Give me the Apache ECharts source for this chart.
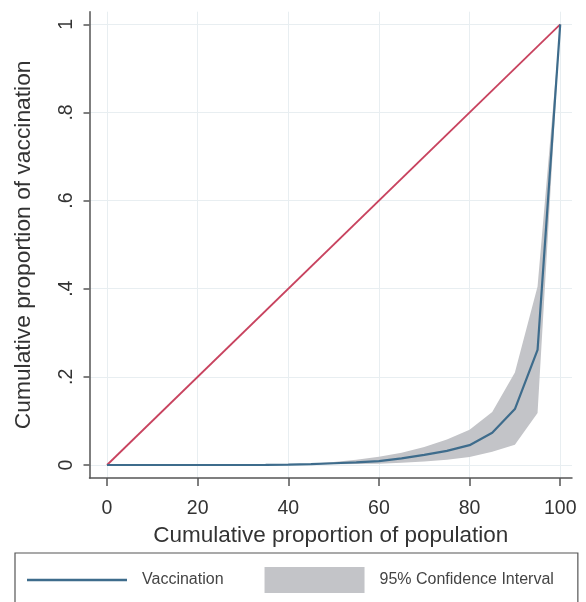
<!DOCTYPE html>
<html>
<head>
<meta charset="utf-8">
<script src="https://cdn.jsdelivr.net/npm/echarts@6/dist/echarts.min.js"></script>
<style>html,body{margin:0;padding:0;background:#fff}#c{width:586px;height:602px}</style>
</head>
<body>
<div id="c"></div>
<script>
// Cumulative proportion of population (%)
var popPct = [0,5,10,15,20,25,30,35,40,45,50,55,60,65,70,75,80,85,90,95,100];
// Concentration (Lorenz) curve of vaccination
var vaccination = [0,0,0,0,0,0,0,0.0003,0.001,0.002,0.004,0.006,0.009,0.015,0.023,0.032,0.045,0.073,0.127,0.261,1];
// 95% confidence interval bounds
var ciLower = [0,0,0,0,0,0,0,0.0002,0.0006,0.001,0.0015,0.002,0.003,0.005,0.008,0.012,0.018,0.03,0.046,0.118,1];
var ciUpper = [0,0,0,0,0,0,0,0.0005,0.0015,0.003,0.007,0.012,0.019,0.028,0.041,0.058,0.08,0.12,0.21,0.405,1];
// Line of equality
var equalityX = [0,100];
var equalityY = [0,1];
// Tick values
var xTicks = [0,20,40,60,80,100];
var yTicks = [0,0.2,0.4,0.6,0.8,1];

var FONT = '"Liberation Sans", Arial, sans-serif';
var chart = echarts.init(document.getElementById('c'), null, {renderer:'canvas'});

function pairs(xs, ys){ return xs.map(function(x,i){ return [x, ys[i]]; }); }
var bandData = popPct.map(function(x,i){ return [x, ciLower[i], ciUpper[i]]; });

chart.setOption({
  animation:false,
  backgroundColor:'#fff',
  grid:{left:89.5, right:14, top:11.7, bottom:124, containLabel:false},
  xAxis:{
    type:'value', min:-3.86, max:102.6,
    name:'Cumulative proportion of population', nameLocation:'middle', nameGap:42,
    nameTextStyle:{fontFamily:FONT, fontSize:22.5, color:'#333'},
    axisLine:{show:true, onZero:false, lineStyle:{color:'#555', width:1.5}},
    axisTick:{show:true, length:8, customValues:xTicks, lineStyle:{color:'#555', width:1.5}},
    axisLabel:{customValues:xTicks, margin:21, fontFamily:FONT, fontSize:19.5, color:'#333'},
    splitLine:{show:true, lineStyle:{color:'#e8eef1', width:1}}
  },
  yAxis:{
    type:'value', min:-0.0295, max:1.0286,
    name:'Cumulative proportion of vaccination', nameLocation:'middle', nameGap:54,
    nameTextStyle:{fontFamily:FONT, fontSize:22.8, color:'#333'},
    axisLine:{show:true, onZero:false, lineStyle:{color:'#555', width:1.5}},
    axisTick:{show:true, length:6, customValues:yTicks, lineStyle:{color:'#555', width:1.5}},
    axisLabel:{customValues:yTicks, rotate:90, margin:13, fontFamily:FONT, fontSize:19.5, color:'#333',
      formatter:function(v){ return String(+v.toFixed(1)).replace(/^0\./,'.'); }},
    splitLine:{show:true, lineStyle:{color:'#e8eef1', width:1}}
  },
  legend:{
    left:15, top:553, orient:'horizontal',
    padding:[14,24,24,12],
    borderColor:'#555', borderWidth:1.2,
    itemWidth:100, itemHeight:26, itemGap:41,
    symbolKeepAspect:true,
    selectedMode:false,
    textStyle:{fontFamily:FONT, fontSize:16, color:'#444', padding:[0,0,0,10]},
    data:[
      {name:'Vaccination', icon:'path://M0,0 L100,0 L100,2.4 L0,2.4 Z', itemStyle:{color:'#3e6c8c'}},
      {name:'95% Confidence Interval', icon:'rect', itemStyle:{color:'#c3c4c8', borderWidth:0}}
    ]
  },
  series:[
    {
      name:'95% Confidence Interval', type:'custom', silent:true,
      data:bandData,
      encode:{x:0, y:[1,2]},
      color:'#c3c4c8',
      itemStyle:{color:'#c3c4c8'},
      z:1,
      renderItem:function(params, api){
        if (params.dataIndex !== 0) return null;
        var upperPts = [], lowerPts = [];
        for (var i = 0; i < bandData.length; i++) {
          upperPts.push(api.coord([bandData[i][0], bandData[i][2]]));
          lowerPts.push(api.coord([bandData[i][0], bandData[i][1]]));
        }
        var pts = upperPts.concat(lowerPts.reverse());
        return {
          type:'polygon',
          shape:{points:pts},
          style:{fill:'#c3c4c8', stroke:null}
        };
      }
    },
    {
      name:'Equality', type:'line', symbol:'none', silent:true,
      data:pairs(equalityX, equalityY),
      lineStyle:{color:'#c8435f', width:1.8}, z:3
    },
    {
      name:'Vaccination', type:'line', symbol:'none', silent:true,
      data:pairs(popPct, vaccination),
      color:'#3e6c8c', symbolKeepAspect:true,
      lineStyle:{color:'#3e6c8c', width:2.2}, z:4
    }
  ]
});
</script>
</body>
</html>
